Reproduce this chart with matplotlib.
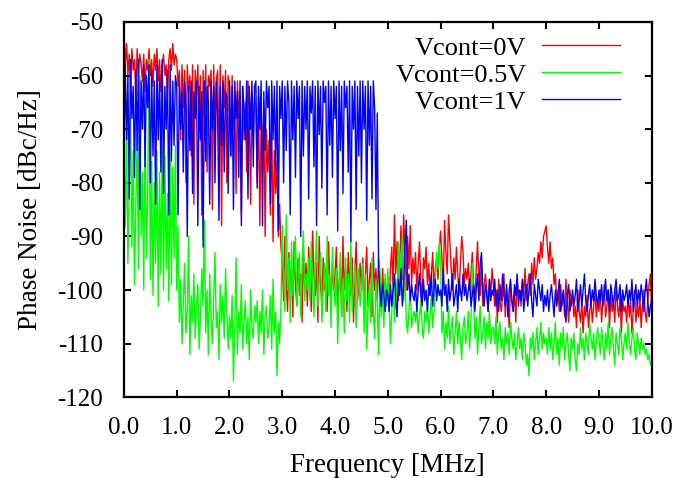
import numpy as np
import matplotlib
matplotlib.use('Agg')
from matplotlib import pyplot as plt

plt.rcParams['font.family'] = ['Liberation Serif', 'DejaVu Serif']
plt.rcParams['font.size'] = 18

# frequency sweep [MHz], 0.025 MHz step
freq = np.linspace(0.0, 10.0, 401)

# Vcont = 0V (red) [dBc/Hz]
v0 = [
    -52, -58, -54, -60, -56, -62, -55, -59, -57, -64, -55, -60, -56, -58, -61, -56, -63, -57, -59, -55,
    -60, -57, -62, -56, -59, -55, -61, -57, -63, -58, -56, -60, -58, -64, -57, -55, -59, -54, -58, -56,
    -57, -62, -59, -72, -58, -66, -59, -80, -58, -63, -60, -75, -58, -84, -59, -64, -58, -70, -60, -86,
    -59, -68, -58, -78, -60, -62, -59, -85, -58, -70, -61, -59, -74, -58, -88, -60, -66, -59, -80, -60,
    -62, -75, -60, -70, -64, -82, -61, -68, -63, -86, -62, -72, -65, -78, -61, -66, -84, -63, -70, -64,
    -66, -80, -64, -88, -68, -74, -66, -90, -70, -78, -72, -86, -68, -91, -74, -82, -76, -90, -84, -92,
    -95, -102, -90, -98, -104, -93, -100, -96, -105, -91, -99, -103, -94, -101, -97, -106, -92, -100, -95, -103,
    -92, -98, -104, -89, -97, -101, -95, -106, -90, -99, -103, -94, -100, -96, -104, -91, -98, -102, -95, -100,
    -97, -92, -103, -99, -95, -105, -90, -100, -96, -104, -93, -98, -101, -94, -106, -97, -91, -102, -99, -95,
    -100, -94, -104, -97, -92, -103, -98, -95, -105, -93, -100, -96, -102, -94, -99, -104, -96, -101, -98, -102,
    -99, -104, -96, -92, -100, -86, -97, -91, -102, -95, -88, -98, -86, -93, -100, -90, -96, -88, -99, -94,
    -97, -93, -100, -95, -91, -98, -102, -94, -96, -92, -99, -95, -101, -97, -93, -100, -96, -94, -98, -92,
    -89, -94, -99, -87, -93, -97, -86, -91, -96, -100, -94, -98, -92, -97, -101, -95, -90, -93, -99, -96,
    -98, -95, -100, -97, -93, -99, -102, -96, -91, -98, -101, -95, -103, -99, -97, -100, -104, -98, -101, -96,
    -99, -103, -100, -106, -98, -102, -104, -101, -97, -105, -100, -103, -107, -99, -102, -104, -100, -106, -98, -101,
    -100, -103, -98, -101, -96, -102, -99, -97, -101, -95, -99, -94, -98, -96, -93, -95, -91, -94, -90, -89,
    -88, -92, -95, -91, -96, -94, -99, -97, -102, -100, -104, -99, -103, -101, -105, -98, -102, -106, -100, -103,
    -101, -105, -103, -107, -100, -104, -106, -102, -108, -103, -105, -101, -107, -104, -102, -106, -103, -100, -105, -102,
    -104, -100, -106, -102, -99, -105, -103, -100, -107, -101, -104, -102, -106, -99, -103, -105, -101, -108, -102, -104,
    -103, -106, -101, -105, -102, -108, -104, -100, -106, -103, -105, -101, -107, -103, -100, -104, -106, -102, -99, -97,
    -104,
]

# Vcont = 0.5V (green)
v05 = [
    -76, -88, -70, -95, -80, -66, -92, -74, -99, -84, -72, -96, -60, -90, -78, -100, -68, -94, -82, -57,
    -98, -76, -101, -80, -95, -74, -103, -78, -97, -73, -100, -75, -96, -82, -102, -74, -99, -77, -94, -73,
    -100, -88, -106, -98, -110, -102, -95, -108, -104, -90, -112, -101, -106, -97, -109, -103, -99, -111, -105, -96,
    -103, -87, -108, -100, -112, -97, -105, -110, -102, -93, -107, -104, -113, -99, -106, -101, -109, -96, -104, -111,
    -105, -109, -101, -117, -107, -94, -112, -104, -108, -99, -111, -106, -102, -110, -105, -113, -100, -107, -109, -103,
    -106, -102, -110, -104, -108, -100, -112, -105, -103, -109, -107, -101, -111, -98, -108, -104, -116, -106, -110, -103,
    -88, -97, -104, -86, -100, -94, -106, -91, -101, -96, -90, -103, -98, -93, -105, -95, -89, -102, -97, -100,
    -94, -102, -91, -99, -105, -96, -89, -103, -98, -93, -106, -100, -95, -104, -90, -101, -97, -107, -92, -99,
    -103, -96, -110, -100, -93, -105, -98, -108, -94, -102, -97, -106, -91, -104, -99, -95, -107, -101, -96, -103,
    -100, -95, -108, -97, -111, -103, -99, -106, -94, -104, -109, -98, -102, -112, -96, -105, -100, -107, -97, -103,
    -96, -102, -110, -104, -99, -106, -98, -103, -91, -100, -94, -90, -102, -97, -106, -108, -104, -100, -107, -105,
    -104, -106, -103, -108, -105, -102, -107, -109, -104, -106, -103, -108, -105, -101, -107, -104, -98, -93, -96, -91,
    -95, -108, -104, -111, -106, -109, -103, -110, -107, -105, -112, -108, -104, -110, -106, -109, -113, -107, -105, -110,
    -108, -104, -111, -106, -95, -102, -109, -105, -112, -107, -103, -110, -108, -105, -111, -106, -109, -104, -110, -107,
    -107, -110, -105, -112, -108, -106, -111, -109, -113, -107, -110, -108, -112, -106, -109, -111, -108, -113, -110, -107,
    -111, -109, -113, -108, -110, -114, -112, -116, -109, -111, -108, -113, -110, -107, -112, -109, -106, -111, -108, -110,
    -109, -112, -107, -111, -108, -113, -110, -106, -112, -109, -114, -108, -111, -107, -113, -110, -108, -112, -115, -109,
    -111, -108, -113, -115, -110, -112, -107, -111, -109, -113, -108, -110, -112, -106, -109, -111, -108, -113, -110, -107,
    -109, -112, -107, -110, -113, -108, -111, -106, -112, -109, -107, -111, -114, -108, -110, -112, -107, -109, -113, -110,
    -108, -111, -106, -110, -112, -109, -107, -111, -113, -108, -110, -112, -109, -111, -110, -112, -111, -113, -112, -114,
    -114,
]

# Vcont = 1V (blue)
v1 = [
    -76, -58, -72, -60, -83, -57, -68, -62, -79, -59, -74, -57, -85, -61, -70, -58, -77, -60, -66, -58,
    -80, -59, -75, -61, -84, -58, -72, -60, -78, -57, -82, -62, -70, -59, -86, -58, -76, -61, -73, -60,
    -62, -86, -61, -70, -63, -78, -61, -66, -90, -62, -74, -61, -82, -63, -68, -61, -88, -62, -72, -63,
    -92, -61, -76, -62, -65, -84, -61, -70, -62, -80, -61, -67, -87, -62, -73, -61, -78, -63, -64, -82,
    -61, -75, -62, -85, -61, -68, -63, -79, -61, -88, -62, -66, -72, -61, -83, -62, -70, -61, -77, -62,
    -61, -81, -62, -70, -61, -88, -63, -74, -61, -66, -62, -84, -61, -72, -62, -78, -61, -89, -62, -68,
    -61, -80, -62, -74, -61, -65, -86, -61, -72, -62, -79, -61, -68, -62, -90, -61, -75, -62, -70, -61,
    -83, -62, -67, -61, -77, -62, -88, -61, -71, -62, -81, -61, -65, -62, -86, -61, -73, -62, -79, -61,
    -68, -62, -89, -61, -74, -62, -82, -61, -66, -62, -78, -61, -91, -62, -70, -61, -85, -62, -75, -61,
    -80, -61, -70, -62, -87, -61, -73, -62, -83, -61, -66, -85, -67, -96, -100, -103, -99, -101, -104, -100,
    -101, -104, -99, -103, -100, -97, -102, -105, -98, -101, -96, -103, -99, -92, -87, -100, -97, -102, -99, -101,
    -102, -99, -104, -100, -97, -101, -103, -98, -102, -100, -104, -99, -101, -97, -103, -100, -98, -102, -99, -101,
    -100, -103, -96, -101, -99, -104, -98, -102, -100, -97, -103, -101, -99, -104, -98, -100, -102, -97, -101, -99,
    -102, -100, -98, -103, -101, -99, -104, -100, -97, -102, -95, -93, -100, -103, -99, -101, -104, -98, -102, -100,
    -101, -98, -103, -100, -104, -99, -102, -97, -101, -103, -99, -105, -100, -98, -102, -104, -99, -101, -97, -103,
    -100, -102, -98, -104, -101, -99, -103, -100, -97, -102, -105, -99, -101, -103, -98, -100, -102, -99, -104, -101,
    -103, -100, -104, -101, -99, -102, -105, -100, -103, -101, -98, -104, -102, -100, -103, -106, -101, -99, -104, -102,
    -100, -103, -101, -98, -104, -102, -99, -103, -100, -97, -102, -104, -101, -99, -103, -100, -102, -98, -101, -103,
    -100, -102, -99, -103, -101, -98, -102, -100, -104, -99, -101, -103, -100, -98, -102, -101, -99, -104, -100, -102,
    -101, -99, -103, -100, -102, -98, -104, -101, -99, -103, -100, -102, -99, -101, -104, -100, -98, -102, -105, -103,
    -102,
]

xticks = np.arange(0, 11, 1)
xticklabels = ['%.1f' % t for t in xticks]
yticks = np.arange(-120, -40, 10)
yticklabels = ['%d' % t for t in yticks]

fig = plt.figure(figsize=(6.81, 4.78), dpi=100)
ax = fig.add_axes([0.182, 0.169, 0.775, 0.785])

ax.plot(freq, v0, color='#ff0000', lw=1.0, label='Vcont=0V')
ax.plot(freq, v05, color='#00ff00', lw=1.0, label='Vcont=0.5V')
ax.plot(freq, v1, color='#0000ff', lw=1.0, label='Vcont=1V')

ax.set_xlim(0, 10)
ax.set_ylim(-120, -50)
ax.set_xticks(xticks)
ax.set_xticklabels(xticklabels)
ax.set_yticks(yticks)
ax.set_yticklabels(yticklabels)
ax.tick_params(direction='in', length=5, width=1.5, top=True, right=True)
ax.tick_params(axis='x', pad=14)
ax.tick_params(axis='y', pad=15)
for s in ax.spines.values():
    s.set_linewidth(1.6)

ax.set_xlabel('Frequency [MHz]', fontsize=19.5, labelpad=10)
ax.set_ylabel('Phase Noise [dBc/Hz]', fontsize=19.5, labelpad=10)

ax.legend(loc='upper right', bbox_to_anchor=(0.939, 0.962), frameon=False,
          markerfirst=False, handlelength=2.95, handletextpad=0.57,
          labelspacing=0.13, borderpad=0, borderaxespad=0, fontsize=19)

fig.savefig('out.png', dpi=100)
